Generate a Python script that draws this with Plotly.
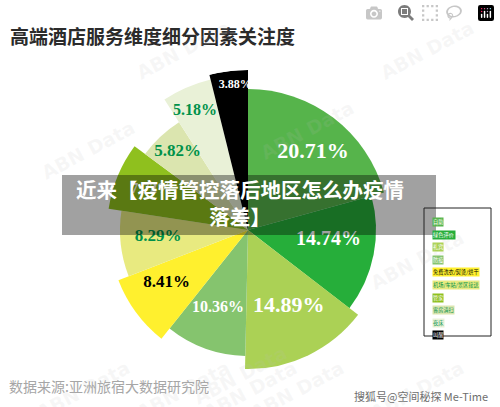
import plotly.graph_objects as go
import numpy as np

W, H = 500, 407
shares = [20.71, 14.74, 14.89, 10.36, 8.41, 8.29, 7.72, 5.82, 5.18, 3.88]
radii = [141, 128, 139, 126, 139, 128, 141, 128, 155, 160]
colors = ["#56B44B", "#26AE3A", "#ABD155", "#85C46E", "#FFF02E",
          "#E8EA80", "#8FC01E", "#DBE5AF", "#E9F1D7", "#000000"]
label_text = ["20.71%", "14.74%", "14.89%", "10.36%", "8.41%",
              "8.29%", "7.72%", "5.82%", "5.18%", "3.88%"]
label_theta = [40, 97, 152, 201, 237, 266, 293, 318, 336, 355]
label_r = [101, 81, 87, 84, 97, 90, 105, 105, 130, 146]
label_color = ["#FFFFFF", "#FFFFFF", "#FFFFFF", "#FFFFFF", "#000000",
               "#00914A", "#FFFFFF", "#00914A", "#00914A", "#FFFFFF"]
label_size = [22, 20, 22, 16, 17, 17, 15, 17, 16, 12]

legend_names = ["自助", "绿色评价", "礼宾", "防疫", "免费洗衣/熨烫/烘干",
                "机场/车站/景区接送", "管家", "客房清扫", "夜床", "叫醒"]
legend_text_color = ["#FFFFFF", "#FFFFFF", "#FFFFFF", "#FFFFFF", "#000000",
                     "#00914A", "#FFFFFF", "#00914A", "#00914A", "#FFFFFF"]

CJK = "Noto Sans CJK SC"
cum = np.cumsum([0] + shares)
theta = (cum[:-1] + np.array(shares) / 2) * 3.6
width = np.array(shares) * 3.6

cx, cy, rmax = 248, 230, 160
fig = go.Figure()
fig.add_trace(go.Barpolar(r=radii, theta=theta, width=width,
                          marker=dict(color=colors, line=dict(width=0)),
                          hoverinfo="skip"))
fig.add_trace(go.Scatterpolar(r=label_r, theta=label_theta, mode="text", text=label_text,
                              textfont=dict(family="Liberation Serif", size=label_size,
                                            color=label_color, weight="bold"),
                              hoverinfo="skip"))


def px(x):
    return x / W


def py(y):
    return 1 - y / H


annotations = [
    dict(x=px(8), y=py(36), text="<b>高端酒店服务维度细分因素关注度</b>", xanchor="left",
         font=dict(family=CJK, size=19, color="#2B2B2B")),
    dict(x=px(7), y=py(386), text="数据来源:亚洲旅宿大数据研究院", xanchor="left",
         font=dict(family=CJK, size=14, color="#A6A6A6")),
    dict(x=px(490), y=py(396), text="搜狐号@空间秘探 Me-Time", xanchor="right",
         font=dict(family=CJK, size=11, color="#6E6E6E")),
    dict(x=px(240), y=py(202), text="<b>近来【疫情管控落后地区怎么办疫情<br>落差】</b>",
         font=dict(family=CJK, size=20.5, color="#FFFFFF")),
]
# watermarks
for wx, wy in [(35, 150), (130, 50), (360, 130), (480, 50), (30, 390), (130, 390), (250, 390), (350, 390), (470, 390), (470, 260), (240, 375)]:
    annotations.append(dict(x=px(wx), y=py(wy), text="<b>ABN Data</b>", textangle=-28,
                            font=dict(family="DejaVu Sans", size=19, color="rgba(190,190,190,0.12)")))

for i, name in enumerate(legend_names):
    annotations.append(dict(x=px(432), y=py(222 + i * 12.6), text=name, xanchor="left",
                            bgcolor=colors[i], borderpad=0,
                            font=dict(family=CJK, size=5.2, color=legend_text_color[i])))
for a in annotations:
    a.update(xref="paper", yref="paper", showarrow=False, yanchor="middle")

shapes = [
    dict(type="rect", xref="paper", yref="paper", x0=px(62), x1=px(436), y0=py(175), y1=py(235),
         fillcolor="rgba(0,0,0,0.37)", line_width=0, layer="above"),
    dict(type="rect", xref="paper", yref="paper", x0=px(424), x1=px(491), y0=py(208), y1=py(336),
         fillcolor="rgba(0,0,0,0)", line=dict(color="#222222", width=1), layer="above"),
]

fig.update_layout(
    width=W, height=H, margin=dict(l=0, r=0, t=0, b=0),
    paper_bgcolor="#FFFFFF", plot_bgcolor="#FFFFFF", showlegend=False,
    polar=dict(
        domain=dict(x=[px(cx - rmax), px(cx + rmax)], y=[py(cy + rmax), py(cy - rmax)]),
        bgcolor="rgba(0,0,0,0)", bargap=0,
        angularaxis=dict(visible=False, direction="clockwise", rotation=90),
        radialaxis=dict(visible=False, range=[0, rmax]),
    ),
    annotations=annotations, shapes=shapes,
)
fig.write_html("out.html", post_script="document.body.style.margin='0';document.documentElement.style.overflow='hidden';")
